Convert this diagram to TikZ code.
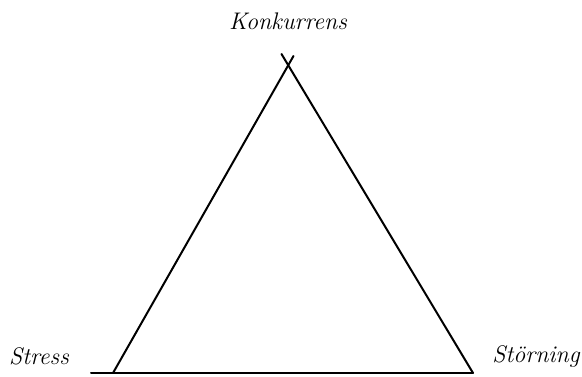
\documentclass[tikz,border=0pt]{standalone}
\begin{document}
\begin{tikzpicture}[x=1pt,y=-1pt,
  edge/.style={line width=2pt,line cap=round},
  lbl/.style={font=\fontsize{24}{28}\selectfont\itshape, inner sep=0pt}]
\useasboundingbox (0,0) rectangle (582,376);
\coordinate (top) at (289.5,66);
\coordinate (L) at (113,373);
\coordinate (R) at (473,373);
\coordinate (Lext) at (293.5,56);
\coordinate (Rext) at (281.5,54);
\coordinate (B0) at (91,373);
\draw[edge] (Lext) -- (L);
\draw[edge] (Rext) -- (R);
\draw[edge] (B0) -- (R);
\node[lbl] (k) at (288,21) {Konkurrens};
\node[lbl] (s) at (39,356) {Stress};
\node[lbl] (st) at (536,356) {Störning};
\end{tikzpicture}
\end{document}
